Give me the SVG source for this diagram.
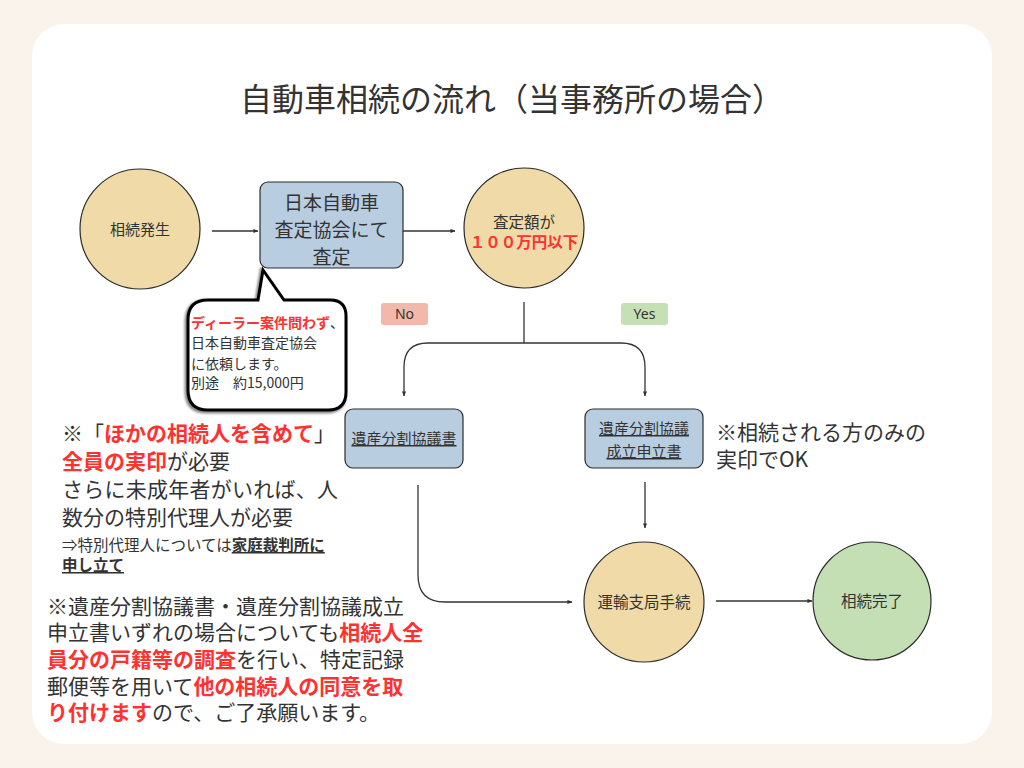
<svg xmlns="http://www.w3.org/2000/svg" width="1024" height="768" viewBox="0 0 1024 768">
<style>
text{font-family:"Noto Sans CJK JP","Noto Sans",sans-serif;fill:#333}
.red{fill:#ff3131;font-weight:700}
.b{font-weight:700}
.u{text-decoration:underline}
.tan{fill:#f0dba8;stroke:#2b2b2b;stroke-width:1.2}
.grn{fill:#c5dfb5;stroke:#2b2b2b;stroke-width:1.2}
.box{fill:#b8cde0;stroke:#2b2b2b;stroke-width:1.2}
.con{fill:none;stroke:#333;stroke-width:1.3;marker-end:url(#ah)}
.lbl{font-family:"Noto Sans","Liberation Sans",sans-serif;font-size:14px;text-anchor:middle}
.t21{font-size:21px}
.t14{font-size:14px}
</style>
<defs>
<marker id="ah" viewBox="0 0 6 6" refX="5.5" refY="3" markerWidth="5" markerHeight="5" orient="auto" markerUnits="userSpaceOnUse"><path d="M0,0.5 L6,3 L0,5.5 Z" fill="#333"/></marker>
<filter id="sh" x="-10%" y="-10%" width="120%" height="130%"><feGaussianBlur stdDeviation="1.2"/></filter>
</defs>
<rect width="1024" height="768" fill="#faf3ec"/>
<rect x="32" y="24" width="960" height="720" rx="32" fill="#ffffff"/>
<text x="512" y="111" font-size="32" text-anchor="middle">自動車相続の流れ（当事務所の場合）</text>

<g id="connectors">
<path class="con" d="M212,231 L258,231"/>
<path class="con" d="M403,231 L455,231"/>
<path fill="none" stroke="#333" stroke-width="1.3" d="M524,302 L524,343"/>
<path class="con" d="M524,343 L428,343 Q404,343 404,367 L404,396"/>
<path class="con" d="M524,343 L621,343 Q645,343 645,367 L645,396"/>
<path class="con" d="M418,485 L418,575 Q418,602 445,602 L572,602"/>
<path class="con" d="M645,482 L645,528"/>
<path class="con" d="M716,601 L812,601"/>
</g>

<g id="n1">
<circle class="tan" cx="140" cy="229" r="60"/>
<text x="140" y="234.5" font-size="15" text-anchor="middle">相続発生</text>
</g>
<g id="n2">
<rect class="box" x="260" y="182" width="143" height="86" rx="8"/>
<text x="331.5" y="210" font-size="19" text-anchor="middle">日本自動車</text>
<text x="331.5" y="237" font-size="19" text-anchor="middle">査定協会にて</text>
<text x="331.5" y="264" font-size="19" text-anchor="middle">査定</text>
</g>
<g id="n3">
<circle class="tan" cx="524" cy="228" r="60"/>
<text x="524" y="227.5" font-size="15.5" text-anchor="middle">査定額が</text>
<text x="524" y="248" font-size="15.5" text-anchor="middle" class="red">１００万円以下</text>
</g>
<g id="no">
<rect x="381" y="303" width="47" height="22" rx="3" fill="#f2b9aa"/>
<text class="lbl" x="404.5" y="319">No</text>
</g>
<g id="yes">
<rect x="621" y="303" width="47" height="22" rx="3" fill="#c5e0b4"/>
<text class="lbl" x="644.5" y="319">Yes</text>
</g>
<g id="bubble">
<path d="M208,300 L258,300 L263,270 L284,300 L330,300 Q346,300 346,316 L346,392 Q346,410 328,410 L208,410 Q188,410 188,390 L188,320 Q188,300 208,300 Z" fill="none" stroke="#888" stroke-width="4" transform="translate(-1.5,1.5)" filter="url(#sh)"/>
<path d="M208,300 L258,300 L263,270 L284,300 L330,300 Q346,300 346,316 L346,392 Q346,410 328,410 L208,410 Q188,410 188,390 L188,320 Q188,300 208,300 Z" fill="#ffffff" stroke="#000" stroke-width="3"/>
<text class="t14" x="191" y="328"><tspan class="red">ディーラー案件問わず</tspan>、</text>
<text class="t14" x="191" y="348">日本自動車査定協会</text>
<text class="t14" x="191" y="369">に依頼します。</text>
<text class="t14" x="191" y="388">別途　約15,000円</text>
</g>
<g id="n4">
<rect class="box" x="345" y="409" width="118" height="59" rx="8"/>
<text x="404" y="444" font-size="15" text-anchor="middle" class="u">遺産分割協議書</text>
</g>
<g id="n5">
<rect class="box" x="585" y="409" width="118" height="59" rx="8"/>
<text x="644" y="434" font-size="15" text-anchor="middle" class="u">遺産分割協議</text>
<text x="644" y="457" font-size="15" text-anchor="middle" class="u">成立申立書</text>
</g>
<g id="note-right">
<text class="t21" x="716" y="440">※相続される方のみの</text>
<text class="t21" x="716" y="467">実印でOK</text>
</g>
<g id="n6">
<circle class="tan" cx="644" cy="602" r="60"/>
<text x="644" y="607.5" font-size="15.5" text-anchor="middle">運輸支局手続</text>
</g>
<g id="n7">
<circle class="grn" cx="872" cy="601" r="59"/>
<text x="872" y="606.5" font-size="15.5" text-anchor="middle">相続完了</text>
</g>
<g id="note-left">
<text class="t21" x="62" y="441">※「<tspan class="red">ほかの相続人を含めて</tspan>」</text>
<text class="t21" x="62" y="469"><tspan class="red">全員の実印</tspan>が必要</text>
<text class="t21" x="62" y="497" textLength="276">さらに未成年者がいれば、人</text>
<text class="t21" x="62" y="525">数分の特別代理人が必要</text>
<text font-size="15.5" x="62" y="551">⇒特別代理人については<tspan class="b u">家庭裁判所に</tspan></text>
<text font-size="15.5" x="62" y="571" class="b u">申し立て</text>
</g>
<g id="note-bottom">
<text class="t21" x="47" y="614">※遺産分割協議書・遺産分割協議成立</text>
<text class="t21" x="47" y="640">申立書いずれの場合についても<tspan class="red">相続人全</tspan></text>
<text class="t21" x="47" y="667"><tspan class="red">員分の戸籍等の調査</tspan>を行い、特定記録</text>
<text class="t21" x="47" y="694">郵便等を用いて<tspan class="red">他の相続人の同意を取</tspan></text>
<text class="t21" x="47" y="720"><tspan class="red">り付けます</tspan>ので、ご了承願います。</text>
</g>
</svg>
